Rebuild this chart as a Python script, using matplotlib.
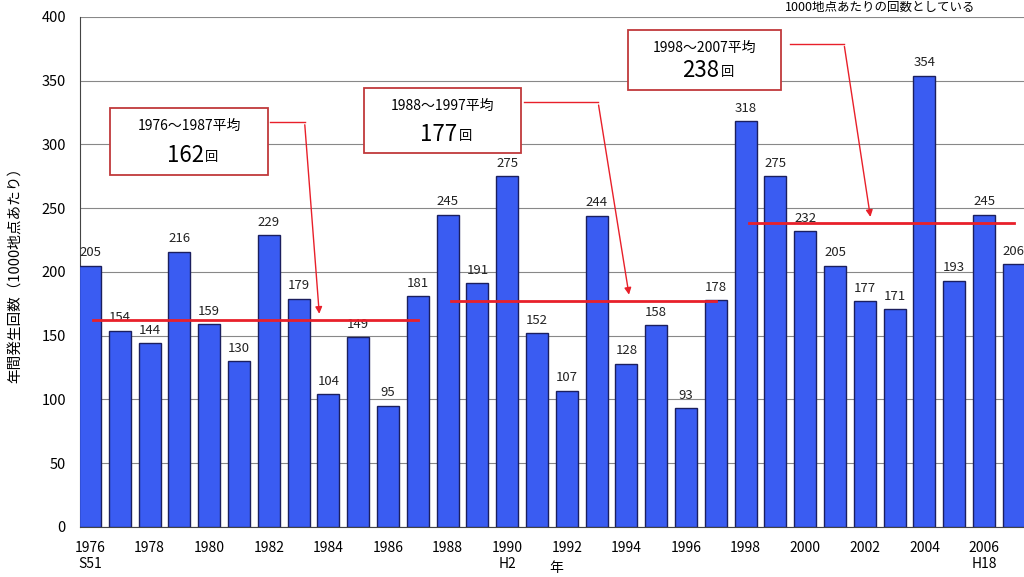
import numpy as np
import matplotlib.pyplot as plt
from matplotlib.patches import Rectangle

plt.rcParams['font.family'] = ['Noto Sans CJK JP', 'DejaVu Sans']

years = np.arange(1976, 2008)
counts = [205, 154, 144, 216, 159, 130, 229, 179, 104, 149, 95, 181,
          245, 191, 275, 152, 107, 244, 128, 158, 93, 178,
          318, 275, 232, 205, 177, 171, 354, 193, 245, 206]
tick_years = list(range(1976, 2007, 2))
era_labels = {1976: 'S51', 1990: 'H2', 2006: 'H18'}

periods = [(1976, 1987), (1988, 1997), (1998, 2007)]
averages = [162, 177, 238]

bar_color = '#3A5CF2'
edge_color = '#1B1F5E'
red = '#E8202A'

fig = plt.figure(figsize=(10.24, 5.77), dpi=100)
ax = fig.add_axes([0.078, 0.0867, 0.922, 0.884])

ax.bar(years, counts, width=0.74, color=bar_color, edgecolor=edge_color, linewidth=1.0, zorder=3)
for y, c in zip(years, counts):
    ax.text(y, c + 5, str(c), ha='center', va='bottom', fontsize=9.5, color='#222222', zorder=4)

# period averages
for (a, b), v in zip(periods, averages):
    ax.plot([a + 0.1, b], [v, v], color=red, lw=2, zorder=5)

# annotation boxes (x0, x1, y0, y1) in data coords
boxes = [(1976.67, 1981.97, 276, 328.6), (1985.2, 1990.45, 293, 344), (1994.05, 1999.2, 343, 390)]
arrows = [[(1982.05, 317.6), (1983.2, 317.6), (1983.7, 165)],
          [(1990.55, 333), (1993.05, 333), (1994.1, 180)],
          [(1999.5, 379), (2001.3, 379), (2002.2, 241)]]
for (x0, x1, y0, y1), (a, b), v, pts in zip(boxes, periods, averages, arrows):
    ax.add_patch(Rectangle((x0, y0), x1 - x0, y1 - y0, facecolor='white',
                           edgecolor='#C0393B', lw=1.3, zorder=6))
    cx = (x0 + x1) / 2
    ax.text(cx, y1 - 14, '%d～%d平均' % (a, b), ha='center', va='center', fontsize=10, zorder=7)
    ax.text(cx + 0.5, y0 + 15, str(v), ha='right', va='center', fontsize=16, zorder=7)
    ax.text(cx + 0.55, y0 + 13.5, '回', ha='left', va='center', fontsize=9.5, zorder=7)
    xs = [p[0] for p in pts]
    ys = [p[1] for p in pts]
    ax.plot(xs[:2], ys[:2], color=red, lw=1, zorder=6)
    ax.annotate('', xy=pts[2], xytext=pts[1],
                arrowprops=dict(arrowstyle='-|>', color=red, lw=1, mutation_scale=10), zorder=6)

ax.set_xlim(1975.66, 2007.34)
ax.set_ylim(0, 400)
ax.set_yticks(range(0, 401, 50))
ax.tick_params(axis='y', labelsize=10.5, length=0, pad=10)
ax.set_xticks(tick_years)
ax.set_xticklabels([str(t) + ('\n' + era_labels[t] if t in era_labels else '') for t in tick_years],
                   fontsize=10, linespacing=1.15)
ax.tick_params(axis='x', length=0, pad=10)
ax.grid(axis='y', color='#888888', lw=0.8, zorder=0)
for s in ['top', 'right']:
    ax.spines[s].set_visible(False)
ax.spines['left'].set_color('#444444')
ax.spines['bottom'].set_color('#444444')

ax.set_ylabel('年間発生回数（1000地点あたり）', fontsize=10.5, labelpad=14)
fig.text(0.543, 0.003, '年', fontsize=10, ha='center', va='bottom')
fig.text(0.86, 0.999, '1000地点あたりの回数としている', fontsize=9, ha='center', va='top')

fig.savefig('out.png', dpi=100)
